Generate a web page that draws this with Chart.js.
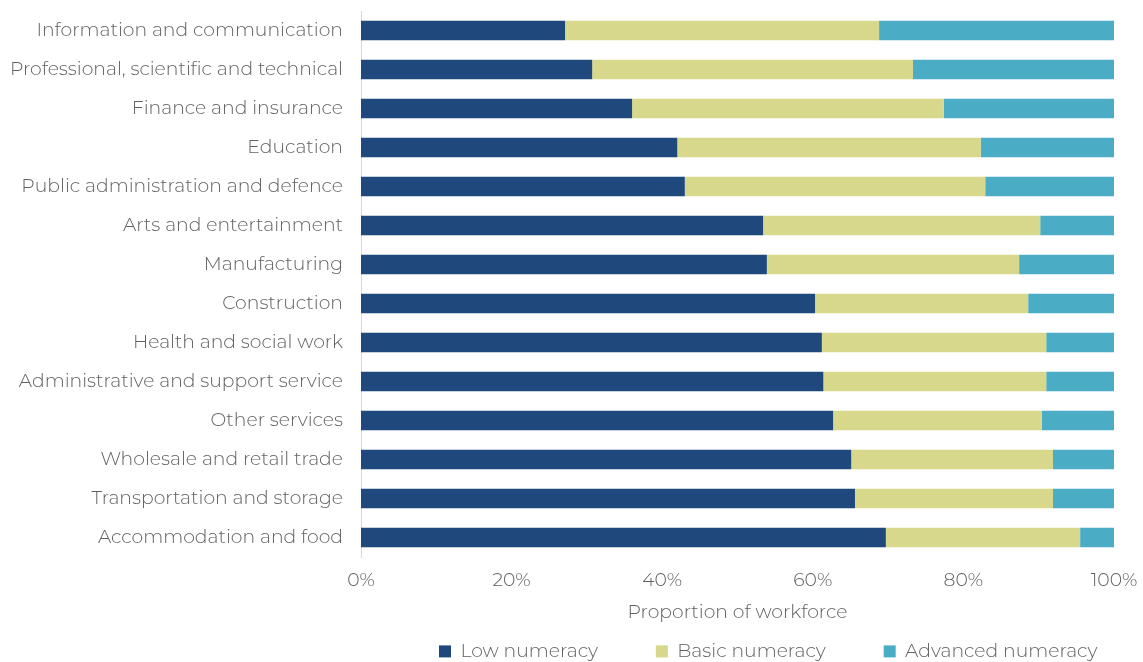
<!DOCTYPE html>
<html>
<head>
<meta charset="utf-8">
<script src="https://cdn.jsdelivr.net/npm/chart.js@4"></script>
<style>
  html, body { margin: 0; padding: 0; background: #fff; }
  #wrap { width: 1143px; height: 662px; }
</style>
</head>
<body>
<div id="wrap"><canvas id="numeracyChart"></canvas></div>
<script>
// industries, top to bottom
var industries = [
  'Information and communication',
  'Professional, scientific and technical',
  'Finance and insurance',
  'Education',
  'Public administration and defence',
  'Arts and entertainment',
  'Manufacturing',
  'Construction',
  'Health and social work',
  'Administrative and support service',
  'Other services',
  'Wholesale and retail trade',
  'Transportation and storage',
  'Accommodation and food'
];

// share of workforce (%)
var lowNumeracy      = [27.1, 30.7, 36.0, 42.0, 43.0, 53.4, 53.9, 60.3, 61.2, 61.4, 62.7, 65.1, 65.6, 69.7];
var basicNumeracy    = [41.7, 42.6, 41.4, 40.3, 39.9, 36.8, 33.5, 28.3, 29.8, 29.6, 27.7, 26.8, 26.3, 25.8];
var advancedNumeracy = [31.2, 26.7, 22.6, 17.7, 17.1,  9.8, 12.6, 11.4,  9.0,  9.0,  9.6,  8.1,  8.1,  4.5];

var xTicks = [0, 20, 40, 60, 80, 100];

var FONT = "Montserrat, 'Open Sans', sans-serif";
var GREY = '#616161';

// nudge the legend to where it sits in the original
var legendShift = {
  id: 'legendShift',
  afterLayout: function(chart) {
    var lg = chart.legend;
    var pad = lg.options.labels.padding;
    lg.top -= pad;
    lg.left = 439 - pad;
    lg.right = 1400;
  }
};

var ctx = document.getElementById('numeracyChart').getContext('2d');
new Chart(ctx, {
  type: 'bar',
  data: {
    labels: industries,
    datasets: [
      { label: 'Low numeracy', data: lowNumeracy, backgroundColor: '#1f497d' },
      { label: 'Basic numeracy', data: basicNumeracy, backgroundColor: '#d7d88b' },
      { label: 'Advanced numeracy', data: advancedNumeracy, backgroundColor: '#4bacc6' }
    ]
  },
  options: {
    indexAxis: 'y',
    responsive: true,
    maintainAspectRatio: false,
    animation: false,
    categoryPercentage: 1,
    barPercentage: 0.5,
    layout: { padding: { top: 11, right: 29, bottom: 0, left: 0 } },
    scales: {
      x: {
        stacked: true,
        min: 0,
        max: 100,
        afterBuildTicks: function(scale) {
          scale.ticks = xTicks.map(function(v) { return { value: v }; });
        },
        afterFit: function(scale) {
          scale.height = 85;
          scale.paddingLeft = 0;
          scale.paddingRight = 0;
        },
        grid: { display: false, drawTicks: false },
        border: { display: false },
        ticks: {
          padding: 12,
          color: GREY,
          font: { family: FONT, size: 18.8, weight: 300 },
          callback: function(v) { return v + '%'; }
        },
        title: {
          display: true,
          text: 'Proportion of workforce',
          color: GREY,
          font: { family: FONT, size: 18.8, weight: 300 },
          padding: { top: 0, bottom: 18 }
        }
      },
      y: {
        stacked: true,
        afterFit: function(scale) {
          scale.width = 361;
          scale.paddingTop = 0;
          scale.paddingBottom = 0;
        },
        grid: { display: false, drawTicks: false },
        border: { display: true, color: '#d9d9d9', width: 1 },
        ticks: {
          padding: 18,
          color: GREY,
          font: { family: FONT, size: 18.8, weight: 300 }
        }
      }
    },
    plugins: {
      legend: {
        position: 'bottom',
        align: 'start',
        maxHeight: 20,
        labels: {
          boxWidth: 12,
          boxHeight: 12,
          padding: 58,
          color: GREY,
          font: { family: FONT, size: 18.8, weight: 300 }
        }
      },
      tooltip: { enabled: false }
    }
  },
  plugins: [legendShift]
});
</script>
</body>
</html>
